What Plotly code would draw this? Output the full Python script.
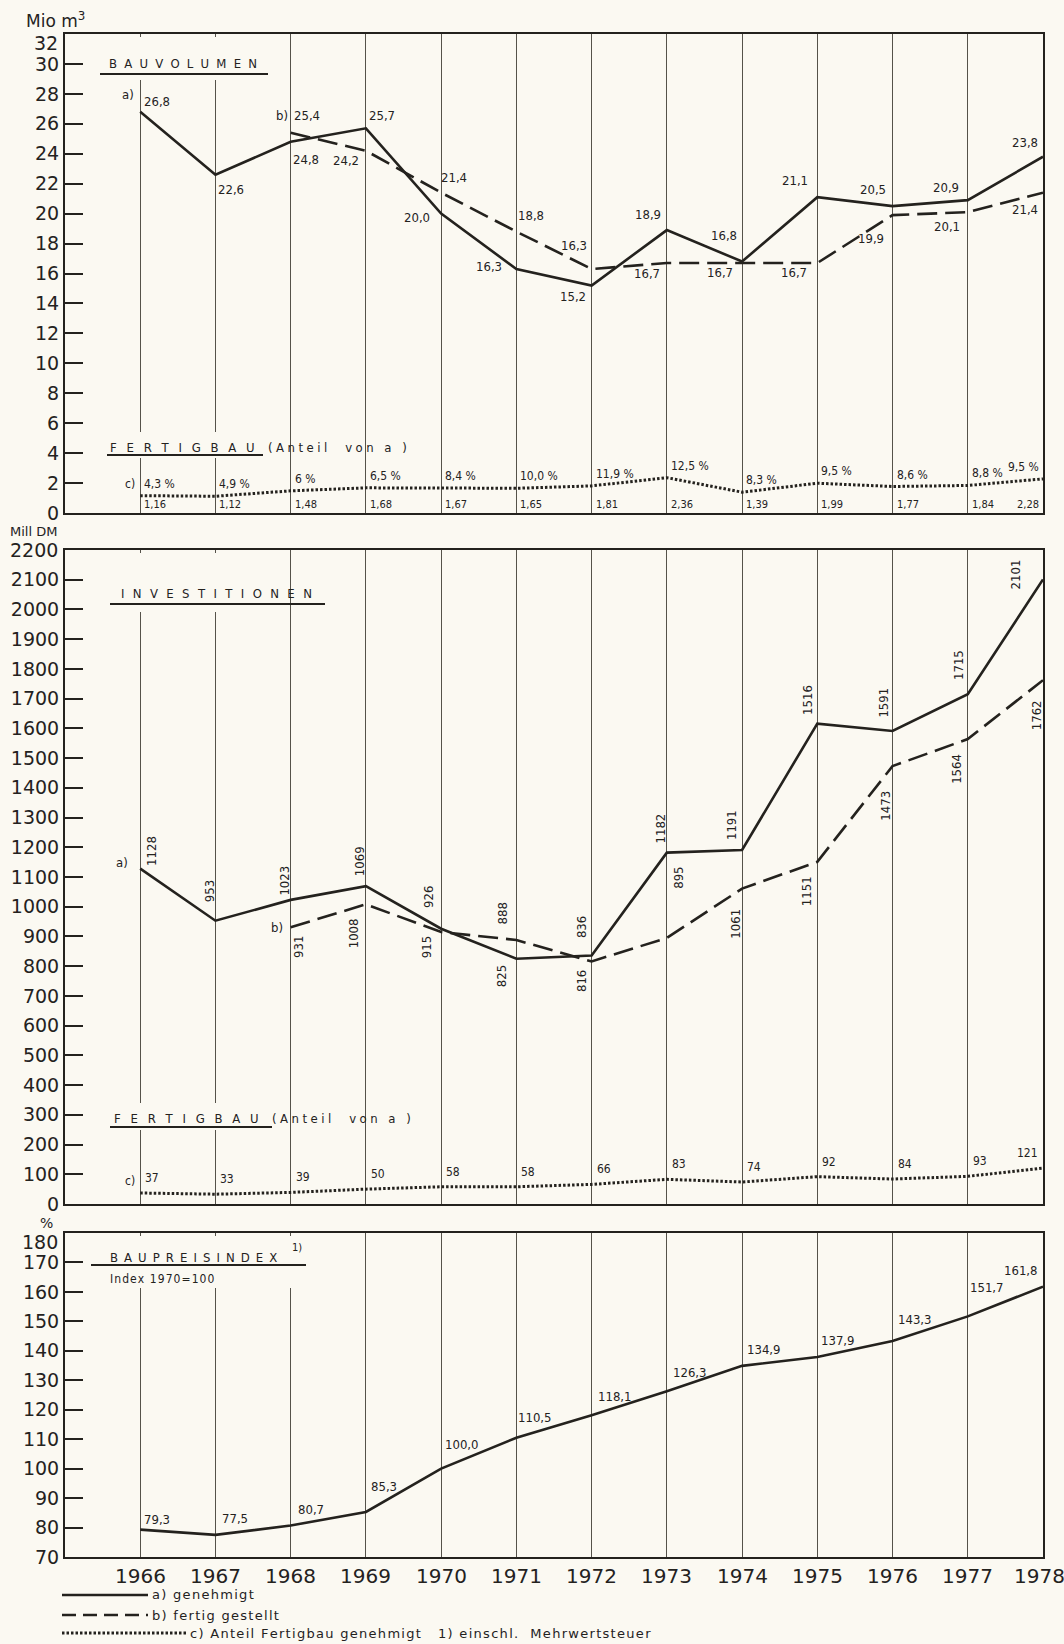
import plotly.graph_objects as go

# ---------------- data ----------------
years = list(range(1966, 1979))
years_b = list(range(1968, 1979))

# Bauvolumen (Mio m3)
vol_a = [26.8, 22.6, 24.8, 25.7, 20.0, 16.3, 15.2, 18.9, 16.8, 21.1, 20.5, 20.9, 23.8]
vol_b = [25.4, 24.2, 21.4, 18.8, 16.3, 16.7, 16.7, 16.7, 19.9, 20.1, 21.4]
vol_c = [1.16, 1.12, 1.48, 1.68, 1.67, 1.65, 1.81, 2.36, 1.39, 1.99, 1.77, 1.84, 2.28]
vol_c_pct = ["4,3 %", "4,9 %", "6 %", "6,5 %", "8,4 %", "10,0 %", "11,9 %",
             "12,5 %", "8,3 %", "9,5 %", "8,6 %", "8,8 %", "9,5 %"]

# Investitionen (Mill DM)
inv_a = [1128, 953, 1023, 1069, 926, 825, 836, 1182, 1191, 1616, 1591, 1715, 2101]
inv_a_text = ["1128", "953", "1023", "1069", "926", "825", "836", "1182", "1191",
              "1516", "1591", "1715", "2101"]
inv_b = [931, 1008, 915, 888, 816, 895, 1061, 1151, 1473, 1564, 1762]
inv_b_text = ["931", "1008", "915", "888", "816", "895", "1061", "1151", "1473",
              "1564", "1762"]
inv_c = [37, 33, 39, 50, 58, 58, 66, 83, 74, 92, 84, 93, 121]

# Baupreisindex (1970 = 100)
index_vals = [79.3, 77.5, 80.7, 85.3, 100.0, 110.5, 118.1, 126.3, 134.9, 137.9,
              143.3, 151.7, 161.8]

year_labels = [str(y) for y in years]
vol_ticks = list(range(0, 31, 2))
inv_ticks = list(range(0, 2101, 100))
idx_ticks = list(range(70, 171, 10))

# ---------------- style ----------------
INK = "#24221e"
PAPER = "#fbf9f2"
GRID = "#55524a"
TICKF = "DejaVu Sans"
LABF = "DejaVu Sans Condensed, Liberation Sans Narrow, DejaVu Sans"

W, H = 1064, 1644
ML, MT = 65, 34
PW, PH = 978, 1523
MR, MB = W - ML - PW, H - MT - PH


def pxp(px):
    return (px - ML) / PW


def pyp(py):
    return (MT + PH - py) / PH


def fmt1(v):
    return f"{v:.1f}".replace(".", ",")


def fmt2(v):
    return f"{v:.2f}".replace(".", ",")


def spaced(word, sep=" \u2009"):
    return sep.join(list(word))


def loose(text, sep="\u200a"):
    return sep.join(list(text))


fig = go.Figure()


def add_line(x, y, ax, dash, width=2.6):
    fig.add_trace(go.Scatter(
        x=x, y=y, xaxis="x" + ax, yaxis="y" + ax, mode="lines",
        line=dict(color=INK, width=width, dash=dash),
        hoverinfo="skip", showlegend=False))


SOLID = "solid"
DASH = "20px,8px"
DOT = "2.5px,2px"

add_line(years, vol_a, "", SOLID)
add_line(years_b, vol_b, "", DASH)
add_line(years, vol_c, "", DOT, 3)
add_line(years, inv_a, "2", SOLID)
add_line(years_b, inv_b, "2", DASH)
add_line(years, inv_c, "2", DOT, 3)
add_line(years, index_vals, "3", SOLID)

ann = []


def txt(x, y, text, ax="", xa="left", ya="bottom", xs=0, ys=0, size=13,
        angle=0, fam=LABF):
    ann.append(dict(x=x, y=y, xref="x" + ax, yref="y" + ax, text=text,
                    showarrow=False, xanchor=xa, yanchor=ya, xshift=xs,
                    yshift=ys, textangle=angle,
                    font=dict(family=fam, size=size, color=INK)))


def ptxt(px, py, text, xa="left", ya="middle", size=13, fam=LABF):
    ann.append(dict(x=pxp(px), y=pyp(py), xref="paper", yref="paper",
                    text=text, showarrow=False, xanchor=xa, yanchor=ya,
                    font=dict(family=fam, size=size, color=INK)))


# ---- top panel labels ----
vol_a_place = [("left", "bottom", 2, 1), ("left", "top", 1, -5),
               ("left", "top", 0, -8), ("left", "bottom", 1, 3),
               ("right", "middle", -9, -4), ("right", "middle", -12, 3),
               ("right", "top", -4, -2), ("right", "bottom", -4, 6),
               ("right", "bottom", -3, 17), ("right", "bottom", -7, 7),
               ("right", "bottom", -5, 7), ("right", "bottom", -7, 3),
               ("right", "bottom", -3, 5)]
vol_b_place = [("left", "bottom", 1, 8), ("right", "top", -5, 0),
               ("left", "bottom", -2, 6), ("left", "bottom", 0, 7),
               ("right", "bottom", -3, 14), ("right", "top", -5, -1),
               ("right", "top", -7, 0), ("right", "top", -8, 0),
               ("right", "top", -7, -14), ("right", "top", -6, -5),
               ("right", "top", -3, -7)]
for yr, v, (xa, ya, xs, ys) in zip(years, vol_a, vol_a_place):
    txt(yr, v, fmt1(v), "", xa, ya, xs, ys)
for yr, v, (xa, ya, xs, ys) in zip(years_b, vol_b, vol_b_place):
    txt(yr, v, fmt1(v), "", xa, ya, xs, ys)
txt(years[0], vol_a[0], "a)", "", "right", "bottom", -4, 8)
txt(years_b[0], vol_b[0], "b)", "", "right", "bottom", -1, 8)

for i, (yr, v, p) in enumerate(zip(years, vol_c, vol_c_pct)):
    last = i == len(years) - 1
    txt(yr, v, p, "", "right" if last else "left", "bottom",
        -2 if last else 2, 3, 12)
    txt(yr, 0, fmt2(v), "", "right" if last else "left", "bottom",
        -2 if last else 2, 0, 11)
txt(years[0], vol_c[0], "c)", "", "right", "bottom", -3, 3, 12)

# ---- middle panel labels (rotated) ----
inv_a_off = [(11, 18), (-6, 30), (-6, 19), (-7, 25), (-12, 32), (-15, -17),
             (-10, 28), (-6, 24), (-10, 25), (-10, 24), (-10, 28), (-10, 29),
             (-28, 5)]
inv_b_off = [(8, -20), (-13, -29), (-15, -15), (-14, 27), (-10, -20),
             (12, 60), (-6, -35), (-10, -29), (-7, -40), (-12, -30), (-7, -35)]
for yr, v, t, (dx, dy) in zip(years, inv_a, inv_a_text, inv_a_off):
    txt(yr, v, t, "2", "center", "middle", dx, dy, 13, -90)
for yr, v, t, (dx, dy) in zip(years_b, inv_b, inv_b_text, inv_b_off):
    txt(yr, v, t, "2", "center", "middle", dx, dy, 13, -90)
txt(years[0], inv_a[0], "a)", "2", "right", "middle", -10, 6)
txt(years_b[0], inv_b[0], "b)", "2", "right", "middle", -6, 0)

for i, (yr, v) in enumerate(zip(years, inv_c)):
    last = i == len(years) - 1
    txt(yr, v, str(v), "2", "right" if last else "left", "bottom",
        -3 if last else 3, 6, 12)
txt(years[0], inv_c[0], "c)", "2", "right", "bottom", -3, 3, 12)

# ---- bottom panel labels ----
idx_place = [("left", 2, 1), ("left", 5, 7), ("left", 5, 6), ("left", 3, 16),
             ("left", 2, 15), ("left", 0, 11), ("left", 4, 9), ("left", 4, 9),
             ("left", 3, 7), ("left", 2, 7), ("left", 3, 12), ("left", 0, 19),
             ("right", -4, 7)]
for yr, v, (xa, xs, ys) in zip(years, index_vals, idx_place):
    txt(yr, v, fmt1(v), "3", xa, "bottom", xs, ys, 13)

# year labels below the bottom panel
for i, (yr, lab) in enumerate(zip(years, year_labels)):
    last = i == len(years) - 1
    txt(yr, 70, lab, "3", "center", "top", -4 if last else 0, -5, 20, 0, TICKF)

# top-of-axis tick labels, squeezed inside as in the original
ptxt(60, 43, "32", xa="right", size=19, fam=TICKF)
ptxt(60, 550, "2200", xa="right", size=19, fam=TICKF)
ptxt(60, 1242, "180", xa="right", size=19, fam=TICKF)

# ---------------- shapes: masks, underlines, legend ----------------
shapes = []


def mask(x0, y0, x1, y1):
    shapes.append(dict(type="rect", xref="paper", yref="paper",
                       x0=pxp(x0), x1=pxp(x1), y0=pyp(y1), y1=pyp(y0),
                       fillcolor=PAPER, line=dict(width=0), layer="above"))


def hline(x0, x1, y, width=1.8, dash="solid"):
    shapes.append(dict(type="line", xref="paper", yref="paper",
                       x0=pxp(x0), x1=pxp(x1), y0=pyp(y), y1=pyp(y),
                       line=dict(color=INK, width=width, dash=dash),
                       layer="above"))


mask(95, 37, 275, 80)
mask(100, 432, 265, 458)
mask(100, 553, 272, 612)
mask(100, 1103, 272, 1130)
mask(86, 1236, 300, 1288)

hline(100, 268, 74)
hline(107, 263, 455)
hline(110, 325, 604)
hline(110, 272, 1127)
hline(91, 306, 1265)

# legend samples
hline(62, 148, 1595, 2.6)
hline(62, 148, 1615, 2.6, "14px,7px")
hline(62, 186, 1633, 3, "2.5px,2px")

# ---------------- titles & texts ----------------
ptxt(107, 63, spaced("BAUVOLUMEN", " \u2009\u200a"), size=13)
ptxt(108, 447, spaced("FERTIGBAU", " \u00a0\u2009"), size=13)
ptxt(266, 447, loose("(Anteil  von a )", "\u2009\u200a"), size=13)
ptxt(119, 593, spaced("INVESTITIONEN", " \u2009\u2009"), size=13)
ptxt(112, 1118, spaced("FERTIGBAU", " \u00a0\u2009"), size=13)
ptxt(270, 1118, loose("(Anteil  von a )", "\u2009\u200a"), size=13)
ptxt(108, 1257, spaced("BAUPREISINDEX", " \u2009"), size=13)
ptxt(290, 1247, "1)", size=11)
ptxt(108, 1279, loose("Index 1970=100", "\u200a"), size=12)

ptxt(24, 20, "Mio m<sup>3</sup>", size=17, fam=TICKF)
ptxt(8, 531, "Mill DM", size=13, fam=TICKF)
ptxt(38, 1223, "%", size=14, fam=TICKF)

ptxt(150, 1595, loose("a) genehmigt"), size=13, fam=TICKF)
ptxt(150, 1615, loose("b) fertig gestellt"), size=13, fam=TICKF)
ptxt(188, 1633, loose("c) Anteil Fertigbau genehmigt"), size=13, fam=TICKF)
ptxt(436, 1633, loose("1) einschl.  Mehrwertsteuer"), size=13, fam=TICKF)

# ---------------- axes ----------------
xcommon = dict(range=[1965, 1978], tick0=1966, dtick=1, showgrid=True,
               gridcolor=GRID, gridwidth=1.3, showline=True, linecolor=INK,
               linewidth=2, mirror=True, zeroline=False, ticks="",
               showticklabels=False, fixedrange=True)
ycommon = dict(showgrid=False, zeroline=False, showline=True, linecolor=INK,
               linewidth=2, mirror=True, ticks="inside", ticklen=18,
               tickwidth=1.6, tickcolor=INK, fixedrange=True,
               tickmode="array",
               tickfont=dict(family=TICKF, size=19, color=INK))

fig.update_layout(
    width=W, height=H,
    margin=dict(l=ML, r=MR, t=MT, b=MB),
    paper_bgcolor=PAPER, plot_bgcolor=PAPER,
    showlegend=False,
    xaxis=dict(**xcommon, domain=[0, 1], anchor="y"),
    yaxis=dict(**ycommon, domain=[pyp(513), 1], anchor="x", range=[0, 32],
               tickvals=vol_ticks),
    xaxis2=dict(**xcommon, domain=[0, 1], anchor="y2"),
    yaxis2=dict(**ycommon, domain=[pyp(1204), pyp(550)], anchor="x2",
                range=[0, 2200], tickvals=inv_ticks),
    xaxis3=dict(**xcommon, domain=[0, 1], anchor="y3"),
    yaxis3=dict(**ycommon, domain=[0, pyp(1233)], anchor="x3",
                range=[70, 180], tickvals=idx_ticks),
    annotations=ann,
    shapes=shapes,
)

# remove the browser's default page margin so the figure fills the window
fig.write_html("out.html",
               config={"displayModeBar": False},
               post_script="document.body.style.margin='0';"
                           "document.body.style.overflow='hidden';"
                           "document.body.style.background='" + PAPER + "';")
